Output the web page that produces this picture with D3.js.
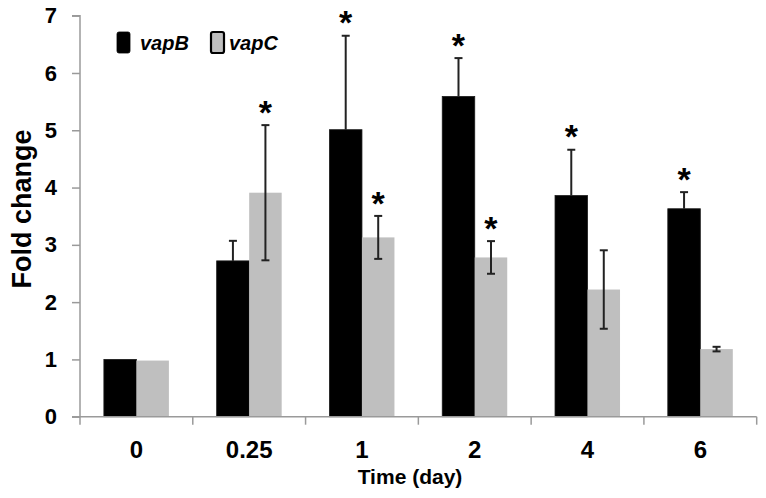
<!DOCTYPE html>
<html>
<head>
<meta charset="utf-8">
<script src="https://cdn.jsdelivr.net/npm/d3@7"></script>
<style>
  html, body { margin: 0; padding: 0; background: #fff; }
  svg { display: block; font-family: "Liberation Sans", Arial, Helvetica, sans-serif; }
</style>
</head>
<body>
<svg id="chart" width="766" height="498"></svg>
<script>
const categories = ["0", "0.25", "1", "2", "4", "6"];
const seriesNames = ["vapB", "vapC"];
const vapB = [1.00, 2.72, 5.01, 5.59, 3.86, 3.63];
const vapBErr = [0, 0.35, 1.64, 0.67, 0.80, 0.29];
const vapBSig = [false, false, true, true, true, true];
const vapC = [0.98, 3.91, 3.13, 2.78, 2.22, 1.18];
const vapCErr = [0, 1.18, 0.375, 0.285, 0.685, 0.04];
const vapCSig = [false, true, true, true, false, false];
const yTicks = [0, 1, 2, 3, 4, 5, 6, 7];
const colors = ["#000000", "#bfbfbf"];

(function () {
const svg = d3.select("#chart");
const mLeft = 80, mRight = 756.7, mTop = 15.7, mBottom = 416.7;

const x = d3.scaleBand().domain(categories).range([mLeft, mRight]).padding(0);
const sub = d3.scaleBand().domain(seriesNames).range([0, 65]).padding(0);
const y = d3.scaleLinear().domain([0, 7]).range([mBottom, mTop]);

const rows = [];
categories.forEach((c, i) => {
  rows.push({c, s: "vapB", v: vapB[i], e: vapBErr[i], sig: vapBSig[i], color: colors[0]});
  rows.push({c, s: "vapC", v: vapC[i], e: vapCErr[i], sig: vapCSig[i], color: colors[1]});
});
const bx = d => x(d.c) + x.bandwidth() / 2 - 32.5 + sub(d.s);

// bars
svg.append("g").selectAll("rect").data(rows).join("rect")
  .attr("x", d => bx(d))
  .attr("y", d => y(d.v))
  .attr("width", sub.bandwidth())
  .attr("height", d => y(0) - y(d.v))
  .attr("fill", d => d.color)
  .attr("stroke", d => d.s === "vapB" ? "#1a1a1a" : "none")
  .attr("stroke-width", 0.8);

// error bars (lower half of vapB bars is hidden inside the black bar)
const eg = svg.append("g").attr("stroke", "#222").attr("stroke-width", 2);
rows.filter(d => d.e > 0).forEach(d => {
  const cx = bx(d) + sub.bandwidth() / 2;
  const hi = y(d.v + d.e);
  const lo = d.s === "vapB" ? y(d.v) : y(d.v - d.e);
  eg.append("line").attr("x1", cx).attr("x2", cx).attr("y1", hi).attr("y2", lo);
  eg.append("line").attr("x1", cx - 4).attr("x2", cx + 4).attr("y1", hi).attr("y2", hi);
  if (d.s !== "vapB") eg.append("line").attr("x1", cx - 4).attr("x2", cx + 4).attr("y1", lo).attr("y2", lo);
});

// asterisks
const fsA = 34;
svg.append("g").selectAll("text").data(rows.filter(d => d.sig)).join("text")
  .attr("x", d => bx(d) + sub.bandwidth() / 2)
  .attr("y", d => y(d.v + d.e) - 19 + 0.52 * fsA)
  .attr("text-anchor", "middle")
  .attr("font-size", fsA)
  .attr("font-weight", "bold")
  .attr("fill", "#000")
  .text("*");

// y axis
const axisColor = "#9a9a9a";
const yAxis = svg.append("g").attr("transform", `translate(${mLeft},0)`)
  .call(d3.axisLeft(y).tickValues(yTicks).tickFormat(d3.format("d")).tickSize(8).tickPadding(15));
yAxis.select(".domain").attr("d", `M-8,${mTop}H0V${mBottom + 8}`).attr("stroke", axisColor).attr("stroke-width", 1.5);
yAxis.selectAll(".tick line").attr("stroke", axisColor).attr("stroke-width", 1.5);
yAxis.selectAll(".tick text").attr("font-size", 22).attr("font-weight", "bold").attr("fill", "#000")
  .attr("font-family", "Liberation Sans, Arial, sans-serif");

// x axis line and boundary ticks
const xg = svg.append("g");
xg.append("line").attr("x1", mLeft - 8).attr("x2", mRight).attr("y1", mBottom).attr("y2", mBottom)
  .attr("stroke", axisColor).attr("stroke-width", 1.5);
const bounds = categories.map(c => x(c)).concat([x(categories[categories.length - 1]) + x.bandwidth()]);
xg.selectAll("line.b").data(bounds.slice(1)).join("line").attr("class", "b")
  .attr("x1", d => d).attr("x2", d => d).attr("y1", mBottom).attr("y2", mBottom + 8)
  .attr("stroke", axisColor).attr("stroke-width", 1.5);

const xAxis = svg.append("g").attr("transform", `translate(0,${mBottom})`)
  .call(d3.axisBottom(x).tickSize(0).tickPadding(24));
xAxis.select(".domain").remove();
xAxis.selectAll(".tick text").attr("font-size", 24).attr("font-weight", "bold").attr("fill", "#000")
  .attr("font-family", "Liberation Sans, Arial, sans-serif");

// axis titles
svg.append("text").attr("x", 410).attr("y", 484).attr("text-anchor", "middle")
  .attr("font-size", 21).attr("font-weight", "bold").text("Time (day)");
svg.append("text").attr("transform", "translate(31,209) rotate(-90)").attr("text-anchor", "middle")
  .attr("font-size", 27).attr("font-weight", "bold").text("Fold change");

// legend
const legend = svg.append("g");
const lx = [117, 211];
seriesNames.forEach((s, i) => {
  legend.append("rect").attr("x", lx[i]).attr("y", 32).attr("width", 13).attr("height", 21).attr("rx", 2)
    .attr("fill", colors[i]).attr("stroke", "#000").attr("stroke-width", i === 0 ? 0.8 : 2.2);
  legend.append("text").attr("x", lx[i] + 23 - (i === 1 ? 5 : 0)).attr("y", 49.5)
    .attr("font-size", 20).attr("font-weight", "bold").attr("font-style", "italic").text(s);
});
})();
</script>
</body>
</html>
